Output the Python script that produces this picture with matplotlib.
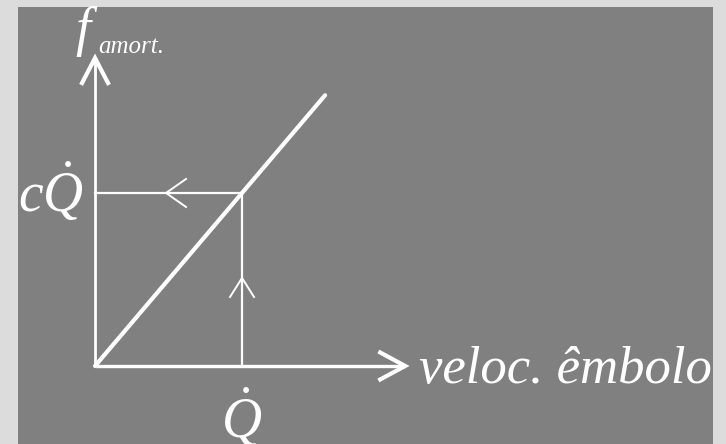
import matplotlib
matplotlib.use('Agg')
import matplotlib.pyplot as plt
from matplotlib.patches import Rectangle

plt.rcParams['mathtext.fontset'] = 'custom'
plt.rcParams['mathtext.it'] = 'Liberation Serif:italic'
plt.rcParams['mathtext.rm'] = 'Liberation Serif'

# valores do gráfico (unidades: Q = 1, c*Q = 1)
Q = 1.0
cQ = 1.0
c = cQ / Q
v_max = 1.565          # fim da reta de amortecimento
x_axis_end = 2.11
y_axis_end = 1.78

branco = 'white'
fundo = '#808080'

fig = plt.figure(figsize=(7.26, 4.44), dpi=100, facecolor='#dcdcdc')
ax = fig.add_axes([18 / 726, 0, 695 / 726, 437 / 444])
ax.set_facecolor(fundo)
ax.set_xlim(-0.524, 4.204)
ax.set_ylim(-0.451, 2.075)
ax.axis('off')
ax.add_patch(Rectangle((0, 0), 1, 1, transform=ax.transAxes, color=fundo, zorder=0))

# escala: px por unidade
sx, sy = 147.0, 173.0

# eixos
ax.plot([0, x_axis_end], [0, 0], color=branco, lw=2.4, solid_capstyle='butt')
ax.plot([0, 0], [0, y_axis_end], color=branco, lw=2.0, solid_capstyle='butt')
# pontas das setas dos eixos
ax.plot([x_axis_end - 25 / sx, x_axis_end, x_axis_end - 25 / sx],
        [13.5 / sy, 0, -13.5 / sy], color=branco, lw=3.0, solid_joinstyle='miter')
ax.plot([-13 / sx, 0, 13 / sx],
        [y_axis_end - 25 / sy, y_axis_end, y_axis_end - 25 / sy],
        color=branco, lw=3.0, solid_joinstyle='miter')

# reta f = c * v
ax.plot([0, v_max], [0, c * v_max], color=branco, lw=3.0, solid_capstyle='round')

# linhas de leitura
ax.plot([Q, Q], [0, c * Q], color=branco, lw=1.6)
ax.plot([0, Q], [cQ, cQ], color=branco, lw=1.6)

# setinhas sobre as linhas
yt = (366 - 278) / sy
ax.plot([Q - 12 / sx, Q, Q + 12 / sx], [yt - 19 / sy, yt, yt - 19 / sy], color=branco, lw=1.4)
xt = (166 - 95) / sx
ax.plot([xt + 20 / sx, xt, xt + 20 / sx], [cQ + 14 / sy, cQ, cQ - 14 / sy], color=branco, lw=1.4)

# textos
fonte = dict(family='Liberation Serif', style='italic', color=branco)
ax.text(-20 / sx, (366 - 45) / sy, 'f', fontsize=39, ha='left', va='baseline', **fonte)
ax.text(3 / sx, (366 - 53) / sy, 'amort.', fontsize=18, ha='left', va='baseline', **fonte)
ax.text(-77 / sx, (366 - 212) / sy, r'$c\dot{Q}$', fontsize=40, ha='left', va='baseline', color=branco)
ax.text(Q, (366 - 438) / sy, r'$\dot{Q}$', fontsize=40, ha='center', va='baseline', color=branco)
ax.text(x_axis_end + 14 / sx, (366 - 383) / sy, 'veloc. êmbolo', fontsize=38,
        ha='left', va='baseline', **fonte)

fig.savefig('out.png', dpi=100, facecolor=fig.get_facecolor())
